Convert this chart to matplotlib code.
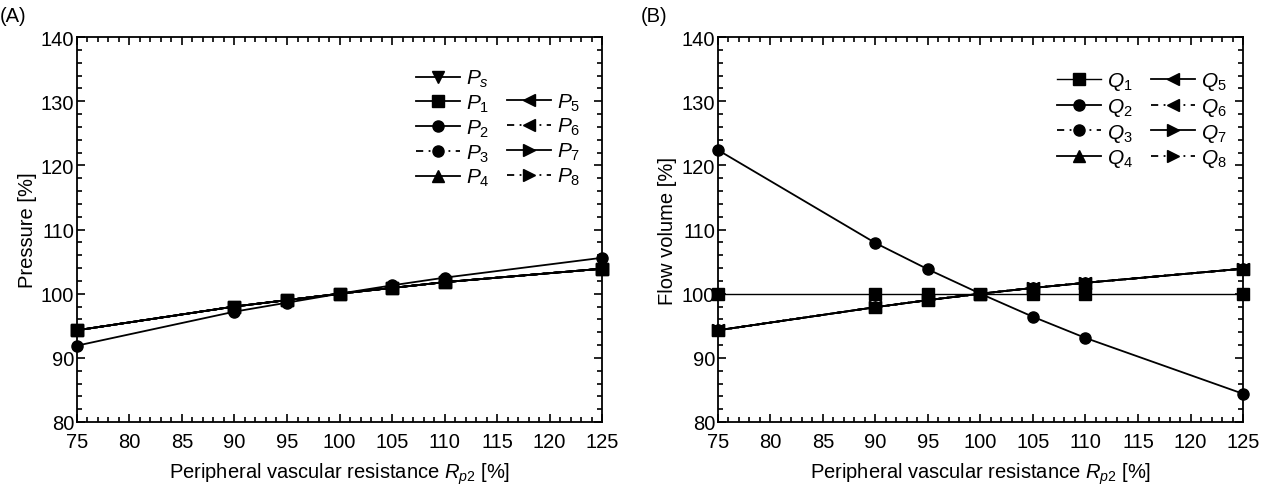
import numpy as np
import matplotlib
matplotlib.use("Agg")
import matplotlib.pyplot as plt
from matplotlib.lines import Line2D
from matplotlib.ticker import MultipleLocator

plt.rcParams['font.family'] = ['Liberation Sans', 'DejaVu Sans']
plt.rcParams['mathtext.fontset'] = 'custom'
plt.rcParams['mathtext.rm'] = 'Liberation Sans'
plt.rcParams['mathtext.it'] = 'Liberation Sans:italic'

# resistance R_p2 [%]
r_p2 = [75, 90, 95, 100, 105, 110, 125]

# panel A - pressure [%]
p_steep = [91.9, 97.2, 98.6, 100, 101.3, 102.5, 105.6]
p_flat = [94.3, 98.0, 99.0, 100, 100.9, 101.8, 103.9]

# panel B - flow volume [%]
q_const = [100, 100, 100, 100, 100, 100, 100]
q_down = [122.4, 107.9, 103.8, 100, 96.4, 93.1, 84.4]
q_up = [94.3, 97.9, 99.0, 100, 100.9, 101.7, 103.9]

dd = (0, (4, 3, 1, 3))

# name, marker, linestyle, which data
p_series = [
    ('s', 'v', '-', p_flat),
    ('1', 's', '-', p_flat),
    ('2', 'o', '-', p_steep),
    ('3', 'o', dd, p_flat),
    ('4', '^', '-', p_flat),
    ('5', '<', '-', p_flat),
    ('6', '<', dd, p_flat),
    ('7', '>', '-', p_flat),
    ('8', '>', dd, p_flat),
]
q_series = [
    ('1', 's', '-', q_const),
    ('2', 'o', '-', q_down),
    ('3', 'o', dd, q_up),
    ('4', '^', '-', q_up),
    ('5', '<', '-', q_up),
    ('6', '<', dd, q_up),
    ('7', '>', '-', q_up),
    ('8', '>', dd, q_up),
]

fig = plt.figure(figsize=(12.68, 4.89), dpi=100)
axA = fig.add_axes([0.0607, 0.135, 0.4141, 0.787])
axB = fig.add_axes([0.5662, 0.135, 0.4141, 0.787])

FS = 14.5


def style(ax, ylabel):
    ax.set_xlim(75, 125)
    ax.set_ylim(80, 140)
    ax.xaxis.set_major_locator(MultipleLocator(5))
    ax.xaxis.set_minor_locator(MultipleLocator(1))
    ax.yaxis.set_major_locator(MultipleLocator(10))
    ax.yaxis.set_minor_locator(MultipleLocator(2))
    ax.tick_params(which='both', direction='in', top=True, right=True,
                   labelsize=FS, width=1.2)
    ax.tick_params(which='major', length=6)
    ax.tick_params(which='minor', length=3.5)
    ax.tick_params(axis='x', pad=7)
    ax.tick_params(axis='y', pad=2)
    for s in ax.spines.values():
        s.set_linewidth(1.3)
    ax.set_xlabel(r'Peripheral vascular resistance $R_{p2}$ [%]', fontsize=FS, labelpad=7)
    ax.set_ylabel(ylabel, fontsize=FS, labelpad=3)


leg_kw = dict(ncol=2, frameon=False, fontsize=15, loc='upper right',
              handlelength=2.1, columnspacing=0.85, labelspacing=0.17,
              handletextpad=0.3, borderaxespad=0.0)

handles = []
for name, mk, ls, y in p_series:
    h, = axA.plot(r_p2, y, color='black', marker=mk, ls=ls, lw=1.3, ms=8,
                  label='$P_{%s}$' % name, clip_on=False)
    handles.append(h)
style(axA, 'Pressure [%]')
blank = Line2D([], [], color='none')
hA = handles[:5] + [blank] + handles[5:]
lA = [h.get_label() for h in handles[:5]] + [' '] + [h.get_label() for h in handles[5:]]
axA.legend(hA, lA, bbox_to_anchor=(0.975, 0.942), **leg_kw)

handles = []
for name, mk, ls, y in q_series:
    lw = 1.0 if name == '1' else 1.3
    h, = axB.plot(r_p2, y, color='black', marker=mk, ls=ls, lw=lw, ms=8,
                  label='$Q_{%s}$' % name, clip_on=False)
    handles.append(h)
style(axB, 'Flow volume [%]')
axB.legend(handles, [h.get_label() for h in handles],
           bbox_to_anchor=(0.985, 0.935), **leg_kw)

fig.text(0.0, 0.985, '(A)', fontsize=FS, va='top')
fig.text(0.505, 0.985, '(B)', fontsize=FS, va='top')

fig.savefig('out.png', dpi=100)
